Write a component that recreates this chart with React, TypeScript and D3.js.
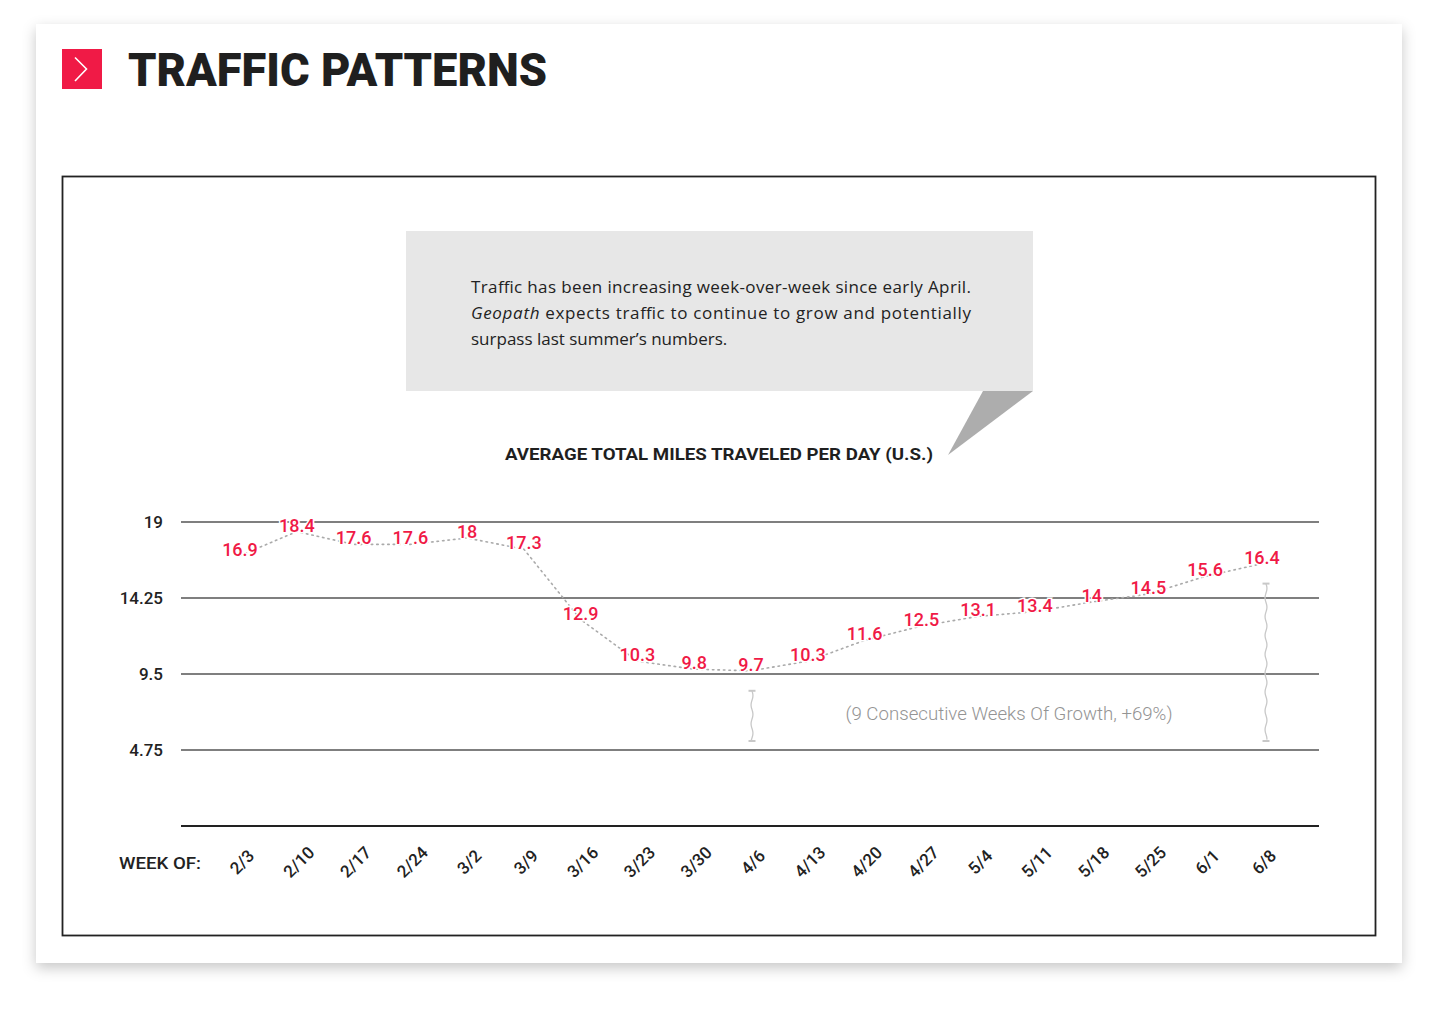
import React from "react";
import * as d3 from "d3";

const weeks = ["2/3","2/10","2/17","2/24","3/2","3/9","3/16","3/23","3/30","4/6","4/13","4/20","4/27","5/4","5/11","5/18","5/25","6/1","6/8"];
const miles = [16.9,18.4,17.6,17.6,18,17.3,12.9,10.3,9.8,9.7,10.3,11.6,12.5,13.1,13.4,14,14.5,15.6,16.4];
const yTicks = [19, 14.25, 9.5, 4.75];
const growthStart = "4/6";
const growthEnd = "6/8";
const growthLabel = "(9 Consecutive Weeks Of Growth, +69%)";

const RED = "#f01a46";
const FONT = "Roboto, 'Open Sans', sans-serif";

function wavy(x: number, y0: number, y1: number) {
  const pts: [number, number][] = [];
  for (let y = y0; y <= y1; y += 2) {
    pts.push([x + Math.sin((y - y0) / 3) * 1, y]);
  }
  return d3.line().curve(d3.curveBasis)(pts) || "";
}

export default function App() {
  const x = d3.scalePoint<string>().domain(weeks).range([240, 1262]);
  const y = d3.scaleLinear().domain([0, 19]).range([826, 522]);
  const line = d3
    .line<number>()
    .x((_, i) => x(weeks[i]) as number)
    .y((d) => y(d));

  const bracket = (week: string, v: number, dx: number) => {
    const bx = (x(week) as number) + dx;
    const top = y(v) + 20;
    const bot = y(4.75) - 9;
    return (
      <g stroke="#c8c8c8" strokeWidth={1.3} fill="none">
        <line x1={bx - 3.5} x2={bx + 3.5} y1={top} y2={top} strokeWidth={2} />
        <line x1={bx - 3.5} x2={bx + 3.5} y1={bot} y2={bot} strokeWidth={2} />
        <path d={wavy(bx, top, bot)} />
      </g>
    );
  };

  const si = weeks.indexOf(growthStart);
  const ei = weeks.indexOf(growthEnd);

  return (
    <svg
      width={1440}
      height={1017}
      style={{ position: "absolute", left: 0, top: 0, background: "#fff" }}
    >
      <defs>
        <filter id="shadow" x="-5%" y="-5%" width="110%" height="115%">
          <feDropShadow dx="0" dy="5" stdDeviation="7" floodColor="#000" floodOpacity="0.22" />
        </filter>
      </defs>
      <rect x={36} y={24} width={1366} height={939} fill="#fff" filter="url(#shadow)" />

      {/* header */}
      <rect x={62} y={49} width={40} height={40} fill={RED} />
      <path d="M75,57.5 L86.5,69 L75,81" stroke="#fff" strokeWidth={1.6} fill="none" />
      <text
        x={128}
        y={86}
        fontFamily={FONT}
        fontWeight={900}
        fontSize={47}
        fill="#1f1f1f"
        textLength={419}
        lengthAdjust="spacingAndGlyphs"
      >
        TRAFFIC PATTERNS
      </text>

      {/* frame */}
      <rect x={62.5} y={176.5} width={1313} height={759} fill="none" stroke="#222" strokeWidth={1.8} />

      {/* annotation box */}
      <rect x={406} y={231} width={627} height={160} fill="#e7e7e7" />
      <polygon points="983,391 1033,391 948,455" fill="#adadad" />
      <g fontFamily="'Open Sans', sans-serif" fontSize={17} fill="#222">
        <text x={471} y={293} textLength={500} lengthAdjust="spacing">
          Traffic has been increasing week-over-week since early April.
        </text>
        <text x={471} y={319} textLength={500} lengthAdjust="spacing">
          <tspan fontStyle="italic">Geopath</tspan> expects traffic to continue to grow and potentially
        </text>
        <text x={471} y={345}>surpass last summer’s numbers.</text>
      </g>

      {/* chart title */}
      <text
        x={719}
        y={460}
        textAnchor="middle"
        fontFamily={FONT}
        fontWeight={700}
        fontSize={17}
        fill="#1f1f1f"
        textLength={428}
        lengthAdjust="spacingAndGlyphs"
      >
        AVERAGE TOTAL MILES TRAVELED PER DAY (U.S.)
      </text>

      {/* grid */}
      {yTicks.map((t) => (
        <g key={t}>
          <line x1={181} x2={1319} y1={y(t)} y2={y(t)} stroke="#555" strokeWidth={1.4} />
          <text
            x={163}
            y={y(t)}
            dy="0.35em"
            textAnchor="end"
            fontFamily={FONT}
            fontWeight={500}
            fontSize={17}
            fill="#222"
          >
            {t}
          </text>
        </g>
      ))}
      <line x1={181} x2={1319} y1={y(0)} y2={y(0)} stroke="#222" strokeWidth={2} />

      {/* line */}
      <path
        d={line(miles) || ""}
        fill="none"
        stroke="#aaa"
        strokeWidth={1.6}
        strokeDasharray="1.5 4"
        strokeLinecap="round"
      />
      {miles.map((v, i) => (
        <text
          key={i}
          x={x(weeks[i])}
          y={y(v)}
          textAnchor="middle"
          fontFamily={FONT}
          fontWeight={500}
          fontSize={18}
          fill={RED}
          stroke="#fff"
          strokeWidth={3}
          paintOrder="stroke"
        >
          {v}
        </text>
      ))}

      {/* growth brackets */}
      {bracket(weeks[si], miles[si], 1)}
      {bracket(weeks[ei], miles[ei], 4)}
      <text
        x={1009}
        y={720}
        textAnchor="middle"
        fontFamily={FONT}
        fontWeight={300}
        fontSize={18}
        fill="#949494"
        textLength={327}
        lengthAdjust="spacingAndGlyphs"
      >
        {growthLabel}
      </text>

      {/* x axis labels */}
      <text
        x={119}
        y={869}
        fontFamily={FONT}
        fontWeight={500}
        fontSize={17}
        fill="#222"
        textLength={82}
        lengthAdjust="spacingAndGlyphs"
      >
        WEEK OF:
      </text>
      {weeks.map((w) => (
        <text
          key={w}
          transform={`translate(${(x(w) as number) + 2},862) rotate(-45)`}
          textAnchor="middle"
          dy="0.35em"
          fontFamily={FONT}
          fontWeight={500}
          fontSize={17}
          fill="#222"
        >
          {w}
        </text>
      ))}
    </svg>
  );
}
